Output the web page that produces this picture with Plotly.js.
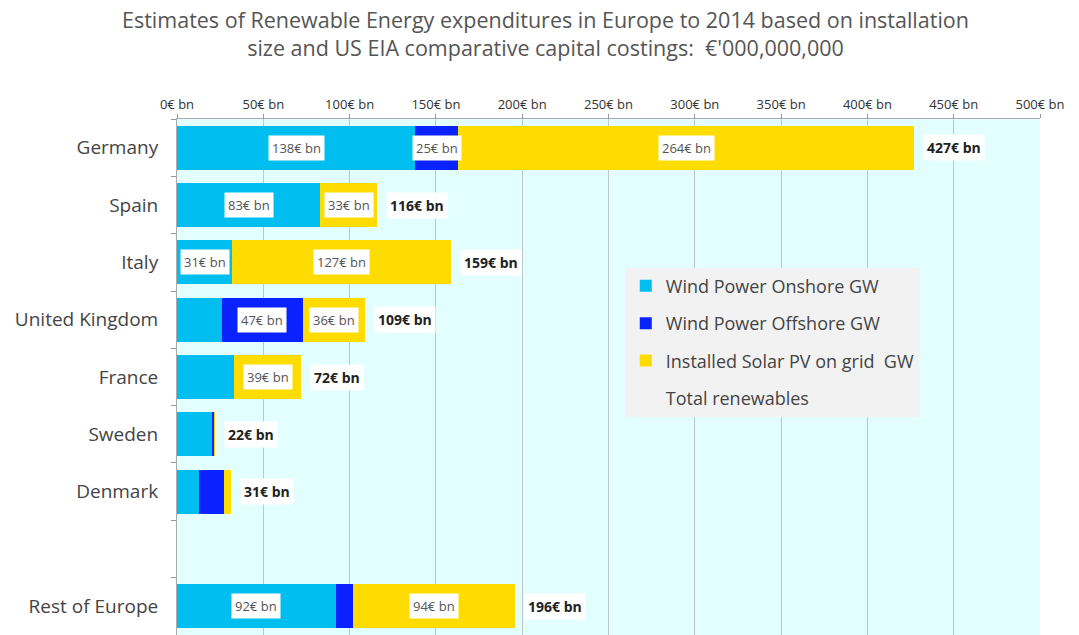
<!DOCTYPE html>
<html>
<head>
<meta charset="utf-8">
<script src="https://cdn.plot.ly/plotly-3.0.1.min.js"></script>
<style>html,body{margin:0;padding:0;background:#fff;}#chart{width:1079px;height:635px;}</style>
</head>
<body>
<div id="chart"></div>
<script>
var countries = ["Germany", "Spain", "Italy", "United Kingdom", "France", "Sweden", "Denmark", " ", "Rest of Europe"];
var onshore  = [138, 83, 32, 26, 33, 20, 13, 0, 92];
var offshore = [25, 0, 0, 47, 0, 1.5, 14, 0, 10];
var solar    = [264, 33, 127, 36, 39, 0.5, 4, 0, 94];
var totals   = [427, 116, 159, 109, 72, 22, 31, null, 196];
var onshoreLabels  = [138, 83, 31, null, null, null, null, null, 92];
var offshoreLabels = [25, null, null, 47, null, null, null, null, null];
var solarLabels    = [264, 33, 127, 36, 39, null, null, null, 94];
var tickVals = [0, 50, 100, 150, 200, 250, 300, 350, 400, 450, 500];
var tickText = tickVals.map(function(v){ return v + "€ bn"; });
var titleText = "Estimates of Renewable Energy expenditures in Europe to 2014 based on installation<br>size and US EIA comparative capital costings:  €'000,000,000";

var FONT = "'Open Sans', Lato, sans-serif";
var C_ON = "#00bff0", C_OFF = "#0a22ff", C_SOL = "#ffdc00";

var traces = [
  {type:"bar", orientation:"h", name:"Wind Power Onshore GW", y:countries, x:onshore, marker:{color:C_ON}, legendgroup:"a", width:0.77},
  {type:"bar", orientation:"h", name:"Wind Power Offshore GW", y:countries, x:offshore, marker:{color:C_OFF}, legendgroup:"b", width:0.77},
  {type:"bar", orientation:"h", name:"Installed Solar PV on grid  GW", y:countries, x:solar, marker:{color:C_SOL}, legendgroup:"c", width:0.77},
  {type:"scatter", mode:"markers", name:"Total renewables", y:countries, x:totals, marker:{color:"rgba(0,0,0,0)", size:1}, legendgroup:"d", hoverinfo:"skip"}
];

var ann = [];
function seg(labels, starts, vals){
  for (var i=0;i<countries.length;i++){
    if (labels[i]===null) continue;
    ann.push({x: starts[i] + vals[i]/2, y: countries[i], xref:"x", yref:"y", text: labels[i] + "€ bn",
      showarrow:false, bgcolor:"#ffffff", borderpad:3, font:{family:FONT, size:13, color:"#555"}});
  }
}
var zero = countries.map(function(){return 0;});
var s2 = onshore.slice();
var s3 = onshore.map(function(v,i){return v+offshore[i];});
seg(onshoreLabels, zero, onshore);
seg(offshoreLabels, s2, offshore);
seg(solarLabels, s3, solar);
for (var i=0;i<countries.length;i++){
  if (totals[i]===null) continue;
  ann.push({x: s3[i]+solar[i], y: countries[i], xref:"x", yref:"y", xanchor:"left", xshift:9,
    text:"<b>"+totals[i]+"€ bn</b>", showarrow:false, bgcolor:"#ffffff", borderpad:3,
    font:{family:FONT, size:14, color:"#222"}});
}
ann.push({x:0.4265, y:1.224, xref:"paper", yref:"paper", xanchor:"center", yanchor:"top", showarrow:false,
  text:titleText, align:"center", font:{family:FONT, size:21.5, color:"#555"}});

var layout = {
  width:1079, height:635,
  margin:{l:177, r:39, t:119, b:0, pad:0},
  paper_bgcolor:"#ffffff", plot_bgcolor:"#e2fefe",
  barmode:"stack", bargap:0.23,
  showlegend:true,
  xaxis:{side:"top", range:[0,500], tickvals:tickVals, ticktext:tickText, showgrid:true, gridcolor:"#bcc8c8", gridwidth:1,
    tickfont:{family:FONT, size:13, color:"#333"}, ticks:"outside", ticklen:4, tickcolor:"#999",
    showline:true, linecolor:"#aaa", zeroline:false, fixedrange:true},
  yaxis:{type:"category", categoryorder:"array", categoryarray:countries, autorange:"reversed",
    tickfont:{family:FONT, size:19, color:"#444"}, ticks:"outside", tickson:"boundaries", ticklen:5, tickcolor:"#999",
    showline:true, linecolor:"#aaa", showgrid:false, ticklabelstandoff:14, fixedrange:true},
  legend:{x:0.52, y:0.712, xanchor:"left", yanchor:"top", bgcolor:"#f2f2f2", borderwidth:0,
    font:{family:FONT, size:18, color:"#444"}, tracegroupgap:11, traceorder:"grouped", itemwidth:30},
  annotations: ann
};

Plotly.newPlot("chart", traces, layout, {displayModeBar:false, staticPlot:true});
</script>
</body>
</html>
